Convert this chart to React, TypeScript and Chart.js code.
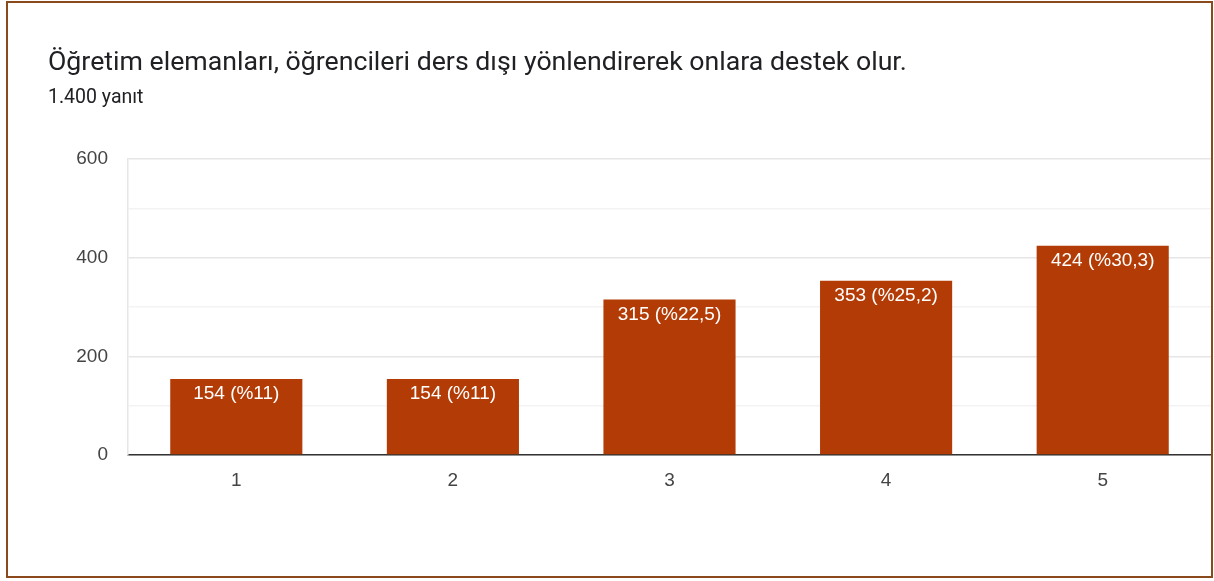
import React, { useEffect, useRef } from "react";
import { Chart, registerables } from "chart.js";

Chart.register(...registerables);

const categories = ["1", "2", "3", "4", "5"];
const counts = [154, 154, 315, 353, 424];
const percents = ["11", "11", "22,5", "25,2", "30,3"];
const yTicks = [0, 200, 400, 600];

const TITLE = "Öğretim elemanları, öğrencileri ders dışı yönlendirerek onlara destek olur.";
const SUBTITLE = "1.400 yanıt";

const barLabelPlugin = {
  id: "barLabels",
  afterDatasetsDraw(chart: any) {
    const ctx = chart.ctx;
    const meta = chart.getDatasetMeta(0);
    ctx.save();
    ctx.fillStyle = "#ffffff";
    ctx.font = '19px "Liberation Sans", Arial, sans-serif';
    ctx.textAlign = "center";
    ctx.textBaseline = "middle";
    meta.data.forEach((bar: any, i: number) => {
      ctx.fillText(`${counts[i]} (%${percents[i]})`, bar.x, bar.y + 15);
    });
    ctx.restore();
  },
};

export default function App() {
  const ref = useRef<HTMLCanvasElement>(null);
  useEffect(() => {
    document.body.style.margin = "0";
    const chart = new Chart(ref.current!, {
      type: "bar",
      data: {
        labels: categories,
        datasets: [
          {
            data: counts,
            backgroundColor: "#b33c06",
            borderColor: "#c0461a",
            borderWidth: 0,
            barPercentage: 0.61,
            categoryPercentage: 1,
          },
        ],
      },
      options: {
        responsive: false,
        animation: false,
        plugins: { legend: { display: false }, tooltip: { enabled: false } },
        layout: { padding: { left: 0, right: 3, top: 159, bottom: 0 } },
        scales: {
          x: {
            grid: { display: false },
            border: { display: true, color: "#333333", width: 1.5 },
            ticks: {
              color: "#444444",
              font: { family: '"Liberation Sans", Arial, sans-serif', size: 19 },
              padding: 6,
            },
            afterFit(scale: any) {
              scale.height = 581 - 455;
            },
          },
          y: {
            min: 0,
            max: 600,
            afterBuildTicks(scale: any) {
              const t: any[] = [];
              for (let v = 0; v <= 600; v += 100) t.push({ value: v });
              scale.ticks = t;
            },
            ticks: {
              color: "#444444",
              font: { family: '"Liberation Sans", Arial, sans-serif', size: 19 },
              padding: 20,
              callback: (v: any) => (yTicks.includes(Number(v)) ? String(v) : ""),
            },
            grid: {
              drawTicks: false,
              color: (c: any) =>
                c.tick && yTicks.includes(c.tick.value) ? "#e6e6e6" : "#f3f3f3",
              lineWidth: 1.5,
            },
            border: { display: true, color: "#e6e6e6", width: 1.5 },
            afterFit(scale: any) {
              scale.width = 128;
            },
          },
        },
      },
      plugins: [barLabelPlugin],
    });
    return () => chart.destroy();
  }, []);

  return (
    <div style={{ position: "relative", width: 1214, height: 581, background: "#fff", overflow: "hidden" }}>
      <canvas ref={ref} width={1214} height={581} style={{ position: "absolute", left: 0, top: 0 }} />
      <div
        style={{
          position: "absolute",
          left: 48,
          top: 48,
          fontFamily: "Roboto, 'Open Sans', sans-serif",
          fontSize: 26.7,
          lineHeight: "26.7px",
          color: "#202124",
          whiteSpace: "nowrap",
        }}
      >
        {TITLE}
      </div>
      <div
        style={{
          position: "absolute",
          left: 48,
          top: 87,
          fontFamily: "Roboto, 'Open Sans', sans-serif",
          fontSize: 19.5,
          lineHeight: "19.5px",
          color: "#202124",
          whiteSpace: "nowrap",
        }}
      >
        {SUBTITLE}
      </div>
      <div
        style={{
          position: "absolute",
          left: 6,
          top: 1,
          width: 1203,
          height: 573,
          border: "2px solid #8b4a1c",
          pointerEvents: "none",
        }}
      />
    </div>
  );
}
